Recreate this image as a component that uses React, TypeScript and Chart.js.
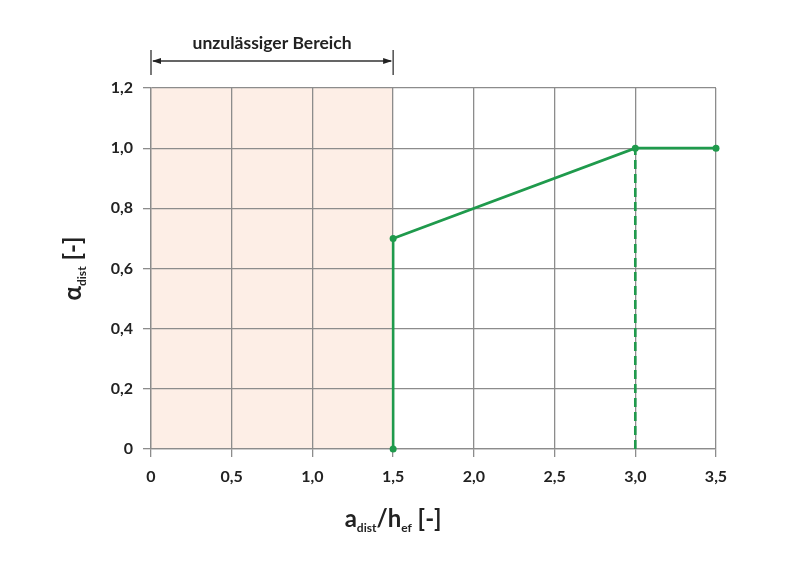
import React, { useEffect, useRef } from "react";
import { Chart, registerables } from "chart.js";

Chart.register(...registerables);

const curveX = [1.5, 1.5, 3.0, 3.5];
const curveY = [0, 0.7, 1.0, 1.0];
const dashX = [3.0, 3.0];
const dashY = [0, 1.0];
const forbiddenRange = [0, 1.5];
const forbiddenLabel = "unzulässiger Bereich";
const xRange = [0, 3.5];
const yRange = [0, 1.2];
const xStep = 0.5;
const yStep = 0.2;

const GREEN = "#1f9a4c";
const GRID = "#8c8c8c";
const TEXT = "#222222";
const FONT = "Lato";

const fmt = (v: number) => (v === 0 ? "0" : v.toFixed(1).replace(".", ","));

function drawRich(ctx: CanvasRenderingContext2D, parts: { t: string; sub?: boolean }[], cx: number, cy: number) {
  const big = `bold 24px ${FONT}`;
  const small = `bold 12px ${FONT}`;
  let total = 0;
  const widths = parts.map((p) => {
    ctx.font = p.sub ? small : big;
    const w = ctx.measureText(p.t).width;
    total += w;
    return w;
  });
  let x = cx - total / 2;
  ctx.textBaseline = "alphabetic";
  ctx.textAlign = "left";
  parts.forEach((p, i) => {
    ctx.font = p.sub ? small : big;
    ctx.fillText(p.t, x, p.sub ? cy + 5 : cy);
    x += widths[i];
  });
}

const customPlugin = {
  id: "custom",
  beforeDraw(chart: any) {
    const { ctx, scales, chartArea } = chart;
    const xs = scales.x;
    const x0 = xs.getPixelForValue(forbiddenRange[0]);
    const x1 = xs.getPixelForValue(forbiddenRange[1]);
    ctx.save();
    ctx.fillStyle = "#fdeee6";
    ctx.fillRect(x0, chartArea.top, x1 - x0, chartArea.bottom - chartArea.top);
    ctx.restore();
  },
  afterDraw(chart: any) {
    const { ctx, scales, chartArea } = chart;
    const xs = scales.x;
    const x0 = xs.getPixelForValue(forbiddenRange[0]);
    const x1 = xs.getPixelForValue(forbiddenRange[1]);
    ctx.save();
    // bracket
    ctx.strokeStyle = "#333";
    ctx.fillStyle = "#222";
    ctx.lineWidth = 1.3;
    const ay = chartArea.top - 27;
    ctx.beginPath();
    ctx.moveTo(x0, ay - 11);
    ctx.lineTo(x0, ay + 14);
    ctx.moveTo(x1, ay - 11);
    ctx.lineTo(x1, ay + 14);
    ctx.moveTo(x0 + 2, ay);
    ctx.lineTo(x1 - 2, ay);
    ctx.stroke();
    ctx.beginPath();
    ctx.moveTo(x0 + 1, ay);
    ctx.lineTo(x0 + 10, ay - 3);
    ctx.lineTo(x0 + 10, ay + 3);
    ctx.closePath();
    ctx.fill();
    ctx.beginPath();
    ctx.moveTo(x1 - 1, ay);
    ctx.lineTo(x1 - 10, ay - 3);
    ctx.lineTo(x1 - 10, ay + 3);
    ctx.closePath();
    ctx.fill();
    ctx.font = `bold 17.5px ${FONT}`;
    ctx.textAlign = "center";
    ctx.textBaseline = "alphabetic";
    ctx.fillStyle = TEXT;
    ctx.fillText(forbiddenLabel, (x0 + x1) / 2, ay - 12);

    // x title, centred under the 1,5 tick
    ctx.fillStyle = TEXT;
    const xc = xs.getPixelForValue(1.5);
    drawRich(
      ctx,
      [{ t: "a" }, { t: "dist", sub: true }, { t: "/h" }, { t: "ef", sub: true }, { t: " [-]" }],
      xc,
      chartArea.bottom + 78
    );
    // y title
    ctx.translate(chartArea.left - 70, (chartArea.top + chartArea.bottom) / 2);
    ctx.rotate(-Math.PI / 2);
    drawRich(ctx, [{ t: "α" }, { t: "dist", sub: true }, { t: " [-]" }], 0, 0);
    ctx.restore();
  },
};

export default function App() {
  const ref = useRef<HTMLCanvasElement>(null);
  useEffect(() => {
    const c = ref.current!;
    const chart = new Chart(c, {
      type: "scatter",
      data: {
        datasets: [
          {
            data: curveX.map((x, i) => ({ x, y: curveY[i] })),
            showLine: true,
            borderColor: GREEN,
            backgroundColor: GREEN,
            borderWidth: 2.6,
            pointRadius: 3.5,
            pointBorderWidth: 0,
            clip: false,
          },
          {
            data: dashX.map((x, i) => ({ x, y: dashY[i] })),
            showLine: true,
            borderColor: GREEN,
            borderWidth: 2.6,
            borderDash: [9, 5],
            pointRadius: 0,
            clip: false,
          },
        ],
      },
      options: {
        responsive: false,
        animation: false,
        layout: { padding: { left: 0, top: 88, right: 84, bottom: 0 } },
        plugins: { legend: { display: false }, tooltip: { enabled: false } },
        scales: {
          x: {
            type: "linear",
            min: xRange[0],
            max: xRange[1],
            afterFit: (a: any) => {
              a.height = 117;
            },
            ticks: {
              stepSize: xStep,
              padding: 10,
              color: TEXT,
              font: { family: FONT, size: 16, weight: "bold" },
              callback: (v: any) => fmt(Number(v)),
            },
            grid: { color: GRID, lineWidth: 1.3, tickLength: 8 },
            border: { color: GRID, width: 1.3 },
          },
          y: {
            type: "linear",
            min: yRange[0],
            max: yRange[1],
            afterFit: (a: any) => {
              a.width = 151;
            },
            ticks: {
              stepSize: yStep,
              padding: 10,
              color: TEXT,
              font: { family: FONT, size: 16, weight: "bold" },
              callback: (v: any) => fmt(Number(v)),
            },
            grid: { color: GRID, lineWidth: 1.3, tickLength: 8 },
            border: { color: GRID, width: 1.3 },
          },
        },
      },
      plugins: [customPlugin],
    } as any);
    return () => chart.destroy();
  }, []);
  return (
    <div style={{ position: "absolute", left: 0, top: 0, width: 800, height: 566, background: "#fff" }}>
      <canvas ref={ref} width={800} height={566} style={{ width: 800, height: 566 }} />
    </div>
  );
}
